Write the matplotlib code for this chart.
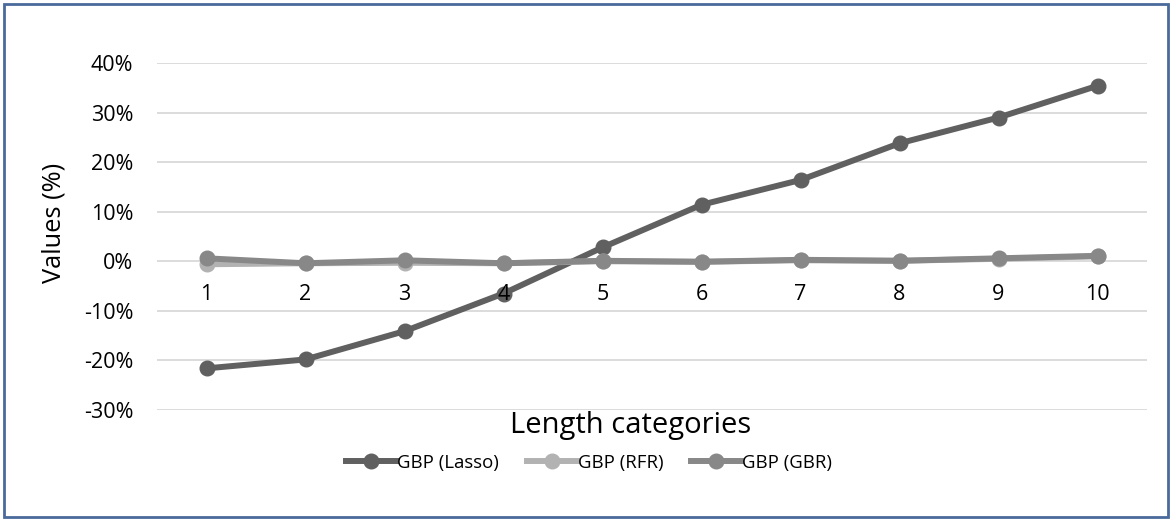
import numpy as np
import matplotlib.pyplot as plt
from matplotlib.patches import Rectangle
from matplotlib.ticker import FuncFormatter

plt.rcParams['font.family'] = ['Open Sans', 'DejaVu Sans']

# data (values in %)
categories = [1, 2, 3, 4, 5, 6, 7, 8, 9, 10]
lasso = [-21.6, -19.8, -14.1, -6.5, 2.8, 11.4, 16.4, 23.8, 29.0, 35.4]
rfr = [-0.6, -0.4, -0.3, -0.4, 0.0, -0.1, 0.2, 0.1, 0.5, 1.0]
gbr = [0.6, -0.4, 0.2, -0.4, 0.1, -0.1, 0.3, 0.1, 0.6, 1.1]
yticks = [-30, -20, -10, 0, 10, 20, 30, 40]

fig = plt.figure(figsize=(11.73, 5.21), dpi=100)
ax = fig.add_axes([157 / 1173, 1 - 410 / 521, 990 / 1173, 347 / 521])

x = np.arange(len(categories))
ax.plot(x, lasso, color='#606060', lw=4.3, marker='o', ms=10.5, label='GBP (Lasso)', zorder=3)
ax.plot(x, rfr, color='#b2b2b2', lw=4.3, marker='o', ms=10.5, label='GBP (RFR)', zorder=4)
ax.plot(x, gbr, color='#888888', lw=4.3, marker='o', ms=10.5, label='GBP (GBR)', zorder=5)

# gridlines drawn by hand so the category labels can sit above the lines
for t in yticks:
    ax.axhline(t, color='#d9d9d9', lw=1.3, zorder=1)

ax.set_xlim(-0.5, len(categories) - 0.5)
ax.set_ylim(-30, 40)
ax.set_yticks(yticks)
ax.yaxis.set_major_formatter(FuncFormatter(lambda v, p: f'{v:.0f}%'))
for s in ['top', 'right', 'left']:
    ax.spines[s].set_visible(False)
ax.spines['bottom'].set_position(('data', 0))
ax.spines['bottom'].set_visible(False)
ax.set_xticks(x)
ax.set_xticklabels([str(c) for c in categories])
ax.xaxis.set_zorder(10)
ax.tick_params(axis='x', length=0, pad=16, labelsize=15.5)
ax.tick_params(axis='y', length=0, pad=17, labelsize=15.5)

fig.text(54 / 1173, 1 - 223 / 521, 'Values (%)', rotation=90, va='center', ha='center', fontsize=18.3)
fig.text(631 / 1173, 1 - 425 / 521, 'Length categories', va='center', ha='center', fontsize=21)

fig.legend(loc='center', bbox_to_anchor=(589 / 1173, 1 - 463 / 521), ncol=3, frameon=False,
           fontsize=13.4, handlelength=2.7, handletextpad=0.05, columnspacing=1.5)

fig.patches.append(Rectangle((4 / 1173, 4 / 521), 1164 / 1173, 513 / 521, transform=fig.transFigure,
                             fill=False, edgecolor='#4a6a9c', lw=2))

fig.savefig('out.png', dpi=100)
